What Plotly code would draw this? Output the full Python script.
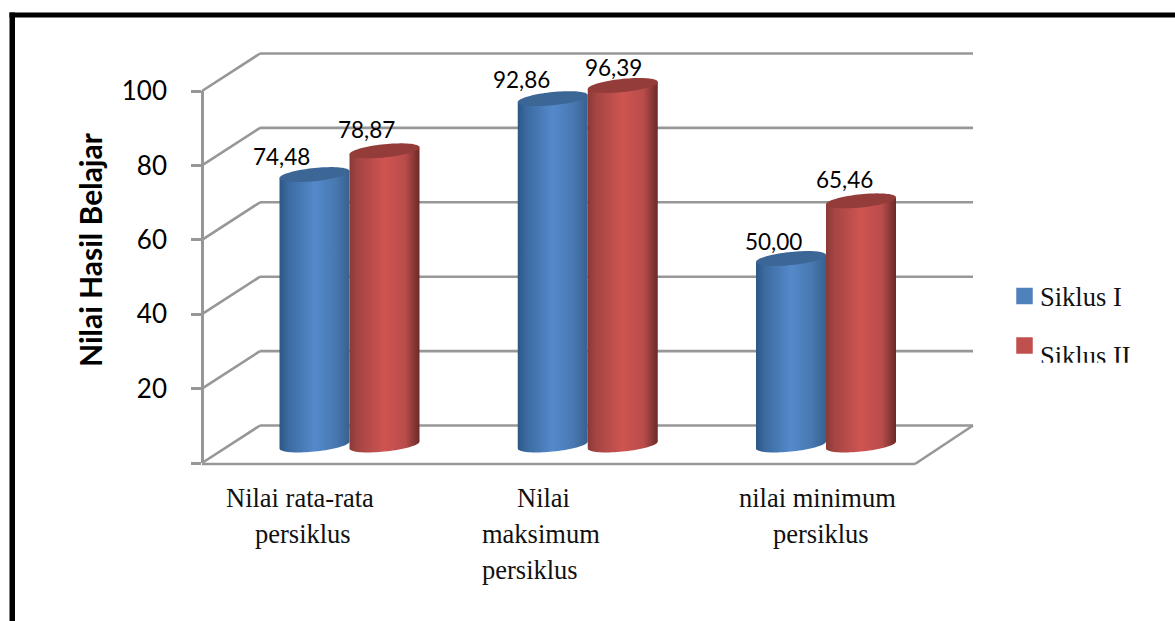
import numpy as np
import plotly.graph_objects as go

categories = ["Nilai rata-rata persiklus", "Nilai maksimum persiklus", "nilai minimum persiklus"]
series_names = ["Siklus I", "Siklus II"]
# heights as drawn in the picture
siklus_1 = [72.5, 92.86, 50.0]
siklus_2 = [78.87, 96.39, 65.46]
# printed data labels
labels_1 = ["74,48", "92,86", "50,00"]
labels_2 = ["78,87", "96,39", "65,46"]
tick_values = [0, 20, 40, 60, 80, 100]
tick_labels = ["", "20", "40", "60", "80", "100"]
y_title = "Nilai Hasil Belajar"

W, H = 1175, 621
CAT0, CAT_STEP = 349.5, 238.25      # px of first category centre, px per category
BASE_PX, UNIT_PX = 445.0, 3.73      # px of cylinder base, px per value unit
AX_X, AX_Y0, AX_UNIT = 202.0, 463.0, 3.72
DEPTH_X, DEPTH_Y = 58.0, 37.5
RIGHT_X = 915.0
GRID = "#979797"

def px(x): return x / W
def py(y): return 1 - y / H

RX, RY, SHEAR = 35.0 / CAT_STEP, 6.6 / UNIT_PX, 3.5 / UNIT_PX
T = np.linspace(0, 2 * np.pi, 81)
FRONT = np.linspace(0, np.pi, 41)

def cylinder(fig, cx, value, scale, cap):
    bx = cx + RX * np.cos(FRONT)
    by = -RY * np.sin(FRONT) + SHEAR * np.cos(FRONT)
    xs = list(bx) + [cx - RX, cx + RX, cx + RX]
    ys = list(by) + [value - SHEAR, value + SHEAR, by[0]]
    fig.add_trace(go.Scatter(x=xs, y=ys, mode="none", fill="toself",
                             fillgradient=dict(type="horizontal", colorscale=scale),
                             hoverinfo="skip", showlegend=False))
    fig.add_trace(go.Scatter(x=cx + RX * np.cos(T), y=value + RY * np.sin(T) + SHEAR * np.cos(T),
                             mode="none", fill="toself", fillcolor=cap,
                             hoverinfo="skip", showlegend=False))

BLUE = [[0, "#2c5786"], [0.12, "#3a6a9f"], [0.5, "#5489cb"], [0.8, "#4878b0"], [1, "#36618f"]]
RED = [[0, "#8a3937"], [0.12, "#a44543"], [0.5, "#cf5451"], [0.8, "#b84c4a"], [1, "#6a2a29"]]

fig = go.Figure()
for i in range(len(categories)):
    cylinder(fig, i - RX, siklus_1[i], BLUE, "#3b6696")
    cylinder(fig, i + RX, siklus_2[i], RED, "#933c3a")

# invisible trace that brings the tick axis into existence
fig.add_trace(go.Scatter(x=[0] * len(tick_values), y=tick_values, yaxis="y2", mode="markers",
                         marker=dict(opacity=0), hoverinfo="skip", showlegend=False))

# legend drawn to match the reference layout
LEG_X = (1024.5 - CAT0) / CAT_STEP
for name, col, ypx in zip(series_names, ["#4f81bd", "#c0504d"], [296, 345.5]):
    yv = (BASE_PX - ypx) / UNIT_PX
    fig.add_trace(go.Scatter(x=[LEG_X], y=[yv], mode="markers",
                             marker=dict(symbol="square", size=16.5, color=col, line_width=0),
                             hoverinfo="skip", showlegend=False))
for name, ypx in zip(series_names, [299, 358]):
    fig.add_trace(go.Scatter(x=[(1040 - CAT0) / CAT_STEP], y=[(BASE_PX - ypx) / UNIT_PX], mode="text",
                             text=[name], textposition="middle right",
                             textfont=dict(family="Liberation Serif", size=26.5, color="#111111"),
                             hoverinfo="skip", showlegend=False))

shapes = []
def line(x0, y0, x1, y1, color=GRID, width=2.6, layer="below"):
    shapes.append(dict(type="line", xref="paper", yref="paper", x0=px(x0), y0=py(y0), x1=px(x1), y1=py(y1),
                       line=dict(color=color, width=width), layer=layer))

for v in tick_values:
    fy = AX_Y0 - AX_UNIT * v
    line(AX_X, fy, AX_X + DEPTH_X, fy - DEPTH_Y)
    line(AX_X + DEPTH_X, fy - DEPTH_Y, RIGHT_X + DEPTH_X, fy - DEPTH_Y)
line(AX_X, AX_Y0 + 1, RIGHT_X, AX_Y0 + 1)
line(RIGHT_X, AX_Y0 + 1, RIGHT_X + DEPTH_X, AX_Y0 - DEPTH_Y)

# black frame
shapes.append(dict(type="rect", xref="paper", yref="paper", x0=px(9.5), x1=px(1175), y0=py(17.5), y1=py(12.5),
                   fillcolor="black", line_width=0, layer="above"))
shapes.append(dict(type="rect", xref="paper", yref="paper", x0=px(9.5), x1=px(15), y0=py(621), y1=py(12.5),
                   fillcolor="black", line_width=0, layer="above"))
# crop that cuts the foot of the second legend entry
shapes.append(dict(type="rect", xref="paper", yref="paper", x0=px(1035), x1=px(1175), y0=py(375), y1=py(362.8),
                   fillcolor="white", line_width=0, layer="above"))

ann = []
LABEL_FONT = dict(family="Lato", size=22.5, color="black")
offs_1 = [(-33.5, 18.5), (-31, 19), (-18, 17)]
offs_2 = [(-18, 21), (-9, 18), (-16.5, 21.5)]
for i in range(len(categories)):
    for val, lab, cx, off in ((siklus_1[i], labels_1[i], i - RX, offs_1[i]),
                              (siklus_2[i], labels_2[i], i + RX, offs_2[i])):
        ann.append(dict(x=cx, y=val, xref="x", yref="y", text=lab, showarrow=False, font=LABEL_FONT,
                        xanchor="center", yanchor="middle", xshift=off[0], yshift=off[1]))

CAT_FONT = dict(family="Liberation Serif", size=26.5, color="#111111")
cat_lines = [[("Nilai rata-rata", -50, 498), ("persiklus", -47, 534)],
             [("Nilai", -44, 498), ("maksimum", -46.5, 534), ("persiklus", -57.5, 570)],
             [("nilai minimum", -9, 498), ("persiklus", -5, 534)]]
for i, lines in enumerate(cat_lines):
    for txt, dx, ypx in lines:
        ann.append(dict(x=i, y=py(ypx), xref="x", yref="paper", text=txt, showarrow=False, font=CAT_FONT,
                        xanchor="center", yanchor="middle", xshift=dx))
ann.append(dict(x=px(90), y=py(250), xref="paper", yref="paper", text="<b>%s</b>" % y_title, showarrow=False,
                textangle=-90, font=dict(family="Lato", size=30, color="black"),
                xanchor="center", yanchor="middle"))

fig.update_layout(
    width=W, height=H, margin=dict(l=0, r=0, t=0, b=0, autoexpand=False), paper_bgcolor="white",
    plot_bgcolor="rgba(0,0,0,0)",
    showlegend=False, shapes=shapes, annotations=ann,
    xaxis=dict(range=[-CAT0 / CAT_STEP, (W - CAT0) / CAT_STEP], domain=[0, 1], visible=False, fixedrange=True),
    yaxis=dict(range=[(BASE_PX - H) / UNIT_PX, BASE_PX / UNIT_PX], domain=[0, 1], visible=False, fixedrange=True),
    yaxis2=dict(range=[0, 100], domain=[py(AX_Y0), py(AX_Y0 - 100 * AX_UNIT)], anchor="free", position=px(AX_X),
                tickmode="array", tickvals=tick_values, ticktext=tick_labels, ticks="outside", ticklen=10,
                tickwidth=2.6, tickcolor=GRID, showline=True, linecolor=GRID, linewidth=2.6, showgrid=False,
                zeroline=False, tickfont=dict(family="Lato", size=26, color="black"), ticklabelstandoff=19,
                fixedrange=True),
)
fig.write_html("out.html", post_script="document.body.style.margin='0';document.body.style.overflow='hidden';",
               config=dict(displayModeBar=False))
